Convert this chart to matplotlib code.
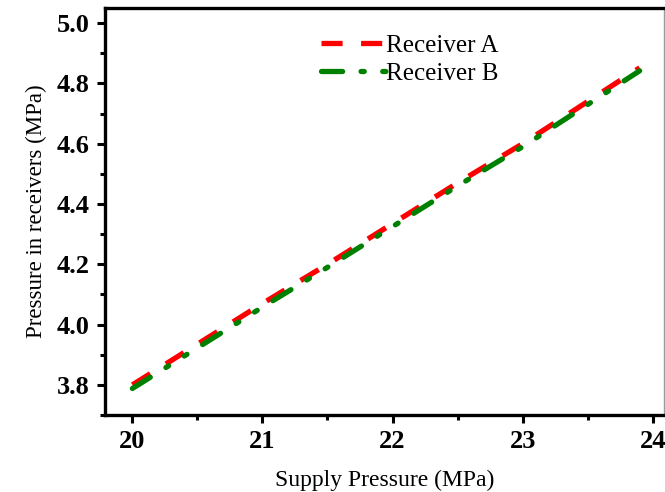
import matplotlib.pyplot as plt
from matplotlib.ticker import MultipleLocator

supply = [20.0, 20.5, 21.0, 21.5, 22.0, 22.5, 23.0, 23.5, 23.9]
receiver_a = [3.800, 3.935, 4.070, 4.200, 4.335, 4.470, 4.600, 4.740, 4.852]
receiver_b = [3.788, 3.923, 4.058, 4.190, 4.325, 4.460, 4.590, 4.730, 4.842]

plt.rcParams['font.family'] = ['Liberation Serif', 'DejaVu Serif']

fig = plt.figure(figsize=(6.65, 4.92), dpi=100)
ax = fig.add_axes([0.158, 0.1565, 0.841, 0.827])

ax.plot(supply, receiver_a, color="red", lw=3.8, dashes=(4, 3.5), label="Receiver A")
ax.plot(supply, receiver_b, color="green", lw=3.8, dashes=(4, 3.5, 0.6, 3.5, 0.6, 3.5),
        label="Receiver B", dash_capstyle="round")

ax.set_xlim(19.79, 24.09)
ax.set_ylim(3.7, 5.05)
ax.xaxis.set_major_locator(MultipleLocator(1))
ax.xaxis.set_minor_locator(MultipleLocator(0.5))
ax.set_yticks([3.8, 4.0, 4.2, 4.4, 4.6, 4.8, 5.0])
ax.yaxis.set_minor_locator(MultipleLocator(0.1))

for s in ax.spines.values():
    s.set_linewidth(2.4)
ax.spines["right"].set_linewidth(1.0)
ax.spines["right"].set_color("#999999")
ax.tick_params(which="major", direction="out", length=6, width=2.2, labelsize=19, pad=5)
ax.tick_params(which="minor", direction="out", length=3.5, width=2.2)
for lab in ax.get_xticklabels() + ax.get_yticklabels():
    lab.set_fontweight("bold")

ax.set_xlabel("Supply Pressure (MPa)", fontsize=17, labelpad=12)
ax.set_ylabel("Pressure in receivers (MPa)", fontsize=16.5, labelpad=7)

ax.legend(loc="upper left", bbox_to_anchor=(0.345, 0.99), frameon=False, fontsize=18,
          handlelength=2.6, handletextpad=0.0, labelspacing=0.2)

fig.savefig("out.png", dpi=100)
